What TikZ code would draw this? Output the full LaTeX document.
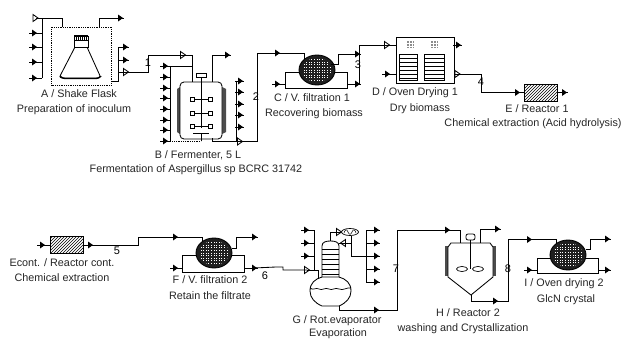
\documentclass[tikz,border=0pt]{standalone}
\usepackage{fontspec}
\setmainfont{Liberation Sans}
\usetikzlibrary{shapes.geometric,patterns}
\tikzset{
  ln/.style={line width=0.85pt,black,line join=miter},
  lbl/.style={inner sep=0pt,font=\fontsize{10.8}{12}\selectfont,text=black!85},
  num/.style={inner sep=0pt,font=\fontsize{11}{12}\selectfont},
  hatchbox/.style={rectangle,draw,line width=0.85pt,minimum width=33pt,minimum height=17pt,inner sep=0pt,pattern=north east lines,pattern color=black},
  filterball/.style={ellipse,draw,line width=0.85pt,minimum width=36pt,minimum height=30pt,inner sep=0pt,fill=black!88},
  framebox/.style={rectangle,draw,line width=0.85pt,inner sep=0pt,anchor=north west},
  imp/.style={rectangle,draw,line width=0.8pt,fill=white,minimum size=4pt,inner sep=0pt},
}
% filled and open stream markers, each a named point
\newcommand\fa[2]{\coordinate (#1) at (#2);
  \draw[ln] ([xshift=-5pt]#1) -- ([xshift=4pt]#1);
  \fill ([xshift=-2pt,yshift=-3.5pt]#1) -- ([xshift=3pt]#1) -- ([xshift=-2pt,yshift=3.5pt]#1) -- cycle;}
\newcommand\oa[2]{\coordinate (#1) at (#2);
  \draw[ln,fill=white] ([xshift=-2.5pt,yshift=-3.5pt]#1) -- ([xshift=2.5pt]#1) -- ([xshift=-2.5pt,yshift=3.5pt]#1) -- cycle;}
\newcommand\la[2]{\coordinate (#1) at (#2);
  \draw[ln,fill=white] ([xshift=2.5pt,yshift=-3.5pt]#1) -- ([xshift=-2.5pt]#1) -- ([xshift=2.5pt,yshift=3.5pt]#1) -- cycle;}
% white dot grid on a filter ball
\newcommand\dotball[3]{\begin{scope}
  \clip (#2,#3) ellipse [x radius=15,y radius=12];
  \foreach \i in {-6,...,6}\foreach \j in {-5,...,5}
    \fill[white] (#2+\i*2.6-0.4,#3+\j*2.6-0.4) rectangle (#2+\i*2.6+0.4,#3+\j*2.6+0.4);
\end{scope}}
\begin{document}
\begin{tikzpicture}[x=1pt,y=-1pt]
\useasboundingbox (0,0) rectangle (622,340);
\fill[white] (0,0) rectangle (622,340);

% ---------- A shake flask
\node[draw,densely dotted,line width=0.8pt,minimum width=60pt,minimum height=58pt,inner sep=0pt] (A) at (81.5,56) {};
\draw[ln,fill=white] (74,36) rectangle (88,47);
\draw[line width=1.6pt] (74,36) -- (88,36);
\foreach \x in {76,78,...,86} \draw[line width=0.5pt] (\x,36) -- (\x,40);
\draw[ln] (74,40) -- (88,40);
\draw[ln,rounded corners=3pt] (75,47) -- (59,78) -- (101,78) -- (87,47);
\draw[line width=1.4pt,rounded corners=3pt] (60,76) -- (62,78.5) -- (99,78.5) -- (101,76);
\oa{a0}{35.5,18}
\fa{a1}{34,33}\fa{a2}{34,47}\fa{a3}{34,62}\fa{a4}{34,78}
\fa{a5}{120,18}\fa{a6}{125,47}\fa{a7}{125,60}\oa{a8}{126,72}
\coordinate (aj) at (42,78);
\draw[ln] (a0) -- (62.5,18) -- (62.5,27);
\draw[ln] (aj) -- (42,18);
\foreach \p in {a1,a2,a3,a4} \draw[ln] (\p) -- (42,0 |- \p);
\draw[ln] (99.5,27) -- (99.5,18) -- (a5);
\draw[ln] (A.east |- 0,81) -- (118,81) -- (118,47) -- (a6);
\draw[ln] (118,60) -- (a7);
\draw[ln] (118,72) -- (a8);
\node[lbl] (tA1) at (79,94) {A / Shake Flask};
\node[lbl] (tA2) at (74,110) {Preparation of inoculum};

% ---------- B fermenter
\fill[black!70] (177,89) -- (180,87) -- (180,134) -- (177,132) -- cycle;
\fill[black!70] (226,89) -- (222,87) -- (222,134) -- (226,132) -- cycle;
\node[rectangle,draw,line width=0.85pt,rounded corners=4pt,minimum width=42pt,minimum height=57pt,inner sep=0pt,fill=white] (B) at (201,110.5) {};
\node[rectangle,draw,line width=0.85pt,minimum width=10pt,minimum height=4pt,inner sep=0pt] (Bm) at (201,75.5) {};
\draw[ln] (Bm) -- (201,128);
\foreach \y in {99,113,126}{
  \draw[ln] (192,\y) -- (210,\y);
  \node[imp] (bi\y a) at (192,\y) {};
  \node[imp] (bi\y b) at (210,\y) {};
}
\draw[ln] (193,133) -- (209,133);
\draw[ln] (201,133) -- (201,141);
\foreach \n/\y in {0/66,1/77,2/88,3/98,4/109,5/120,6/130,7/141}{
  \fa{b\n}{165,\y}
  \draw[ln] (b\n) -- (170,\y);
}
\draw[ln] (170,66) -- (170,141);
\draw[line width=0.8pt,densely dotted] (b7) -- (201,141);
\draw[ln] (b0) -- (192,66);
\oa{bin}{183,55}
\draw[ln] (a8) -- (148,72) -- (148,55) -- (bin);
\draw[ln] (bin) -- (192,55) -- (192,82);
\fa{bo0}{227,55}
\draw[ln] (212,82) -- (212,55) -- (bo0);
\foreach \n/\y in {1/81,2/92,3/104,4/115,5/127}{
  \fa{bo\n}{240,\y}
  \draw[ln] (236,\y) -- (bo\n);
}
\oa{bo6}{240,141.5}
\draw[ln] (236,81) -- (236,141.5);
\draw[ln] (212,138) -- (212,141.5) -- (bo6);
\node[lbl] (tB1) at (198,155) {B / Fermenter, 5 L};
\node[lbl] (tB2) at (196,170) {Fermentation of Aspergillus sp BCRC 31742};

% ---------- C filtration
\node[framebox,minimum width=62pt,minimum height=16pt] (Cf) at (285,72) {};
\node[filterball] (C) at (317,70) {};
\dotball{C}{317}{70}
\fa{c0}{277,53}\fa{c1}{277,84}\fa{c2}{357,54}\fa{c3}{357,84}
\draw[ln] (bo6) -- (257,141.5) -- (257,53) -- (c0);
\draw[ln] (c0) -- (304,53) -- (304,60);
\draw[ln] (c1) -- (Cf.west |- c1);
\draw[ln] (Cf.east |- c3) -- (c3);
\draw[ln] (331,64) -- (338,64) -- (338,54) -- (c2);
\oa{din}{387,45}
\draw[ln] (c3) -- (359.5,84) -- (359.5,45) -- (din);
\draw[ln] (c2) -- (359.5,54);
\node[lbl] (tC1) at (312,98) {C / V. filtration 1};
\node[lbl] (tC2) at (314,114) {Recovering biomass};

% ---------- D oven
\node[rectangle,draw,line width=0.85pt,minimum width=58pt,minimum height=46pt,inner sep=0pt] (D) at (425,60) {};
\foreach \cx in {410,434}
  \foreach \i in {-3,-1.5,0,1.5,3}
    \foreach \j in {-3,-1.5,0,1.5,3}
      \fill[black!45] (\cx+\i-0.4,44+\j-0.4) rectangle (\cx+\i+0.4,44+\j+0.4);
\foreach \l/\r in {399/417,424/444}{
  \draw[ln] (\l,54) rectangle (\r,80);
  \foreach \y in {58,62,...,78}
    \draw[line width=0.8pt] (\l,\y) -- (\r,\y);
}
\fa{d1}{387,74}\fa{d2}{458,45}\oa{d3}{457.5,74}
\draw[ln] (din) -- (D.west |- din);
\draw[ln] (d1) -- (D.west |- d1);
\draw[ln] (D.east |- d2) -- (d2);
\draw[ln] (D.east |- d3) -- (d3);
\node[lbl] (tD1) at (415,93) {D / Oven Drying 1};
\node[lbl] (tD2) at (420,109) {Dry biomass};

% ---------- E reactor
\node[hatchbox] (E) at (540.5,92.5) {};
\fa{e0}{517,92.5}\fa{e1}{564,92.5}
\draw[ln] (d3) -- (481,74) -- (481,92.5) -- (e0);
\draw[ln] (e0) -- (E);
\draw[ln] (E) -- (e1);
\node[lbl] (tE1) at (537,109) {E / Reactor 1};
\node[lbl] (tE2) at (533,124) {Chemical extraction (Acid hydrolysis)};

% ---------- Econt
\node[hatchbox] (X) at (66.5,245) {};
\fa{x0}{42,245}\fa{x1}{90,245}
\draw[ln] (x0) -- (X);
\draw[ln] (X) -- (x1);
\node[lbl] (tX1) at (62,263) {Econt. / Reactor cont.};
\node[lbl] (tX2) at (62,278) {Chemical extraction};

% ---------- F filtration
\node[framebox,minimum width=62pt,minimum height=17pt] (Ff) at (182,255) {};
\node[filterball] (F) at (214,253) {};
\dotball{F}{214}{253}
\fa{f0}{175,237}\fa{f1}{175,268}\fa{f2}{254,237}\fa{f3}{254,268}
\draw[ln] (x1) -- (138,245) -- (138,237) -- (f0);
\draw[ln] (f0) -- (202,237) -- (202,241);
\draw[ln] (f1) -- (Ff.west |- f1);
\draw[ln] (Ff.east |- f3) -- (f3);
\draw[ln] (232,248) -- (236,248) -- (236,237) -- (f2);
\node[lbl] (tF1) at (210,280) {F / V. filtration 2};
\node[lbl] (tF2) at (210,296) {Retain the filtrate};

% ---------- G evaporator
\oa{g6}{307,270}
\draw[ln] (f3) -- (276,267) -- (283,267) -- (283,270) -- (g6);
\draw[ln] (g6) -- (318,270) -- (318,279);
\draw[ln,fill=white] (322,277) -- (322,246) .. controls (322,242) and (326,241) .. (330.5,241) .. controls (335,241) and (339,242) .. (339,246) -- (339,277);
\foreach \y in {249,254,259,264,269,274} \draw[line width=0.8pt] (322,\y) -- (339,\y);
\draw[ln] (322,277) .. controls (315,279) and (310,283) .. (310,291) .. controls (310,298) and (315,303) .. (322,306) -- (339,306) .. controls (346,303) and (351,298) .. (351,291) .. controls (351,283) and (346,279) .. (339,277) -- cycle;
\draw[line width=0.7pt] (310,288) .. controls (313,291) and (316,287) .. (319,289) .. controls (322,291) and (325,287) .. (329,289) .. controls (332,291) and (335,287) .. (339,289) .. controls (343,291) and (347,287) .. (351,288);
\node[ellipse,draw,line width=0.7pt,minimum width=17pt,minimum height=7pt,inner sep=0pt] (Gc) at (350,232) {};
\draw[line width=0.5pt] (344,233) .. controls (345,229) and (347,229) .. (348,232) .. controls (349,235) and (351,235) .. (352,232) .. controls (353,229) and (355,229) .. (356,233);
\oa{gc}{339,232}
\draw[ln] (330.5,241) -- (330.5,232) -- (gc);
\draw[ln] (gc) -- (Gc);
\la{gr}{343,243}
\draw[ln] (gr) -- (339,243);
\draw[ln] (gr) -- (351,243);
\draw[ln] (351,235.5) -- (351,256) -- (366,256);
\foreach \n/\y in {0/230,1/243,2/256,3/269,4/282}{
  \fa{go\n}{376,\y}
  \draw[ln] (366,\y) -- (go\n);
}
\draw[ln] (366,230) -- (366,282);
\foreach \n/\y in {0/230,1/243,2/256}{
  \fa{gi\n}{306,\y}
  \draw[ln] (gi\n) -- (314,\y);
}
\draw[ln] (314,230) -- (314,270);
\fa{g7}{376,310}
\draw[ln] (339,306) -- (339,310) -- (g7);
\node[lbl] (tG1) at (337,321) {G / Rot.evaporator};
\node[lbl] (tG2) at (338,333.5) {Evaporation};

% ---------- H reactor
\fill[black!70] (445,246) rectangle (449,276);
\fill[black!70] (492,246) rectangle (496,276);
\draw[ln,fill=white] (451,243) -- (490,243) -- (493,247) -- (493,277) -- (471,295) -- (448,277) -- (448,247) -- cycle;
\node[rectangle,draw,line width=0.8pt,rounded corners=2pt,minimum width=9pt,minimum height=6pt,inner sep=0pt,fill=white] (Hm) at (470.5,237) {};
\draw[ln] (Hm) -- (470.5,269);
\node[ellipse,draw,line width=0.7pt,minimum width=11pt,minimum height=5pt,inner sep=0pt] (Hi1) at (462,269) {};
\node[ellipse,draw,line width=0.7pt,minimum width=11pt,minimum height=5pt,inner sep=0pt] (Hi2) at (478,269) {};
\fa{h0}{447,230}\fa{h1}{497,229}\fa{h2}{495,301}
\draw[ln] (g7) -- (397,310) -- (397,230) -- (h0);
\draw[ln] (h0) -- (460,230) -- (460,243);
\draw[ln] (480,243) -- (480,229) -- (h1);
\draw[ln] (471,295) -- (471,301) -- (h2);
\node[lbl] (tH1) at (468,313) {H / Reactor 2};
\node[lbl] (tH2) at (463,329) {washing and Crystallization};

% ---------- I drying
\node[framebox,minimum width=61pt,minimum height=15pt] (If) at (537,258) {};
\node[filterball] (I) at (568,255) {};
\dotball{I}{568}{255}
\fa{i0}{529,239.5}\fa{i1}{529,270}\fa{i2}{607,239}\fa{i3}{607,270}
\draw[ln] (h2) -- (508,301) -- (508,239.5) -- (i0);
\draw[ln] (i0) -- (556,239.5) -- (556,243);
\draw[ln] (i1) -- (If.west |- i1);
\draw[ln] (If.east |- i3) -- (i3);
\draw[ln] (586,249) -- (590,249) -- (590,239) -- (i2);
\node[lbl] (tI1) at (564,284) {I / Oven drying 2};
\node[lbl] (tI2) at (566,300) {GlcN crystal};

% ---------- stream numbers
\node[num] (n1) at (148,63) {1};
\node[num] (n2) at (256,97) {2};
\node[num] (n3) at (358,65) {3};
\node[num] (n4) at (481,82) {4};
\node[num] (n5) at (117,251) {5};
\node[num] (n6) at (265,276) {6};
\node[num] (n7) at (396,269) {7};
\node[num] (n8) at (508,269) {8};
\end{tikzpicture}
\end{document}
